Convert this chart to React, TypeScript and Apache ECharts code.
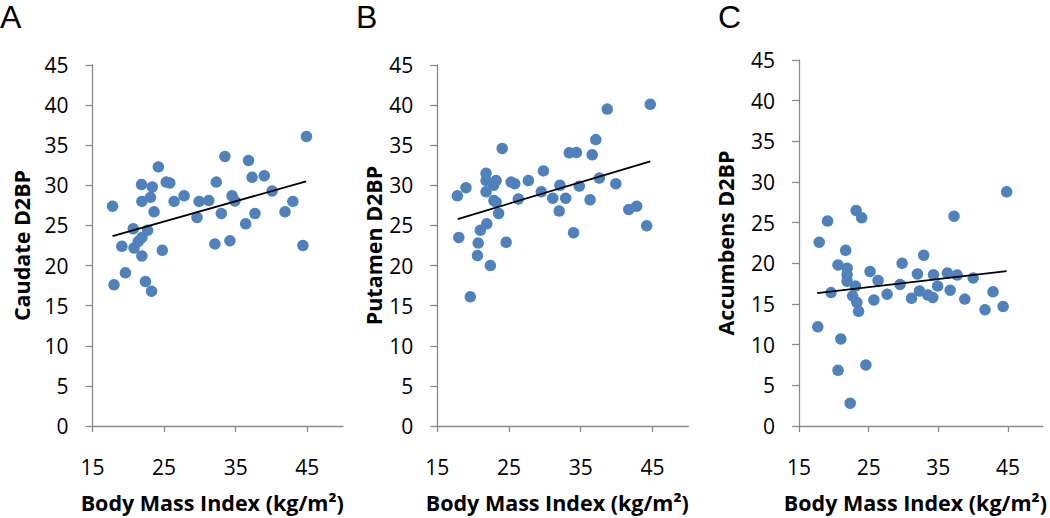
import React, { useEffect, useRef } from "react";
import * as echarts from "echarts";

const xTicks = [15, 25, 35, 45];
const panelLetters = ["A", "B", "C"];
const yTitles = ["Caudate D2BP", "Putamen D2BP", "Accumbens D2BP"];
const xTitle = "Body Mass Index (kg/m²)";

const caudate: [number, number][] = [
  [17.8, 27.4], [18.0, 17.6], [19.1, 22.4], [19.6, 19.1], [20.7, 24.6], [20.8, 22.2],
  [21.4, 23.0], [21.9, 23.5], [21.85, 30.1], [21.9, 28.0], [21.9, 21.2], [22.4, 18.0],
  [22.7, 24.4], [23.1, 28.5], [23.35, 29.8], [23.25, 16.8], [23.6, 26.7], [24.2, 32.3],
  [24.75, 21.9], [25.3, 30.4], [25.8, 30.3], [26.4, 28.0], [27.8, 28.7], [29.6, 26.0],
  [29.9, 28.0], [31.25, 28.1], [32.1, 22.7], [32.3, 30.4], [33.0, 26.5], [33.5, 33.6],
  [34.2, 23.1], [34.5, 28.7], [34.9, 28.05], [36.4, 25.2], [36.8, 33.1], [37.3, 31.0],
  [37.7, 26.5], [39.0, 31.2], [40.1, 29.3], [41.9, 26.7], [43.0, 28.0], [44.4, 22.5],
  [44.9, 36.1],
];
const putamen: [number, number][] = [
  [17.8, 28.7], [18.0, 23.5], [19.0, 29.7], [19.6, 16.1], [20.6, 21.25], [20.7, 22.8],
  [21.0, 24.4], [21.9, 25.2], [21.8, 31.5], [21.8, 30.6], [21.8, 29.2], [22.4, 20.0],
  [22.85, 30.0], [23.2, 30.6], [22.9, 28.1], [23.2, 27.9], [23.55, 26.5], [24.05, 34.6],
  [24.6, 22.9], [25.3, 30.4], [25.8, 30.2], [26.3, 28.3], [27.7, 30.6], [29.5, 29.2],
  [29.8, 31.8], [31.1, 28.4], [32.0, 26.8], [32.1, 30.0], [32.9, 28.4], [33.4, 34.05],
  [34.4, 34.1], [34.0, 24.1], [34.8, 29.9], [36.3, 28.2], [36.6, 33.8], [37.1, 35.7],
  [37.6, 30.9], [38.7, 39.5], [39.9, 30.2], [41.7, 27.0], [42.8, 27.4], [44.2, 24.95],
  [44.7, 40.1],
];
const accumbens: [number, number][] = [
  [17.7, 12.2], [17.9, 22.6], [19.1, 25.2], [19.6, 16.4], [20.6, 6.85], [20.6, 19.8],
  [21.0, 10.7], [21.7, 21.6], [21.9, 19.4], [21.9, 18.6], [21.9, 17.8], [22.35, 2.8],
  [22.7, 16.0], [23.1, 17.2], [23.2, 26.5], [23.3, 15.2], [23.55, 14.1], [24.0, 25.6],
  [24.6, 7.5], [25.2, 19.0], [25.75, 15.5], [26.35, 17.9], [27.65, 16.2], [29.5, 17.4],
  [29.8, 20.0], [31.15, 15.7], [32.0, 18.7], [32.3, 16.6], [32.9, 21.0], [33.5, 16.1],
  [34.2, 15.8], [34.3, 18.6], [34.9, 17.2], [36.3, 18.8], [36.7, 16.7], [37.25, 25.8],
  [37.7, 18.56], [38.8, 15.6], [40.0, 18.2], [41.7, 14.3], [42.85, 16.5], [44.3, 14.7],
  [44.8, 28.8],
];
const trendCaudate: [number, number][] = [[17.8, 23.67], [44.85, 30.5]];
const trendPutamen: [number, number][] = [[17.84, 25.8], [44.7, 33.0]];
const trendAccumbens: [number, number][] = [[17.6, 16.35], [44.8, 19.04]];

const FONT = "'Open Sans', 'Noto Sans', sans-serif";
const LETTER_FONT = "'Liberation Sans', Arial, sans-serif";
const AXIS_COLOR = "#8a8a8a";
const DOT = "#4f81bd";

export default function App() {
  const ref = useRef<HTMLDivElement>(null);
  useEffect(() => {
    document.body.style.margin = "0";
    const chart = echarts.init(ref.current!, null, { renderer: "svg" });
    const grids = [
      { left: 92.5, top: 65, width: 250.5, height: 372.7 },
      { left: 437.3, top: 65, width: 251, height: 372.7 },
      { left: 799, top: 60, width: 249.7, height: 372.7 },
    ];
    const yGaps = [60, 53, 63];
    const scatters = [caudate, putamen, accumbens];
    const trends = [trendCaudate, trendPutamen, trendAccumbens];
    const letterX = [0, 356, 718];
    chart.setOption({
      animation: false,
      grid: grids,
      xAxis: grids.map((_, i) => ({
        type: "value",
        gridIndex: i,
        min: 15,
        max: 50,
        name: xTitle,
        nameLocation: "middle",
        nameGap: 65,
        nameTextStyle: {
          fontFamily: FONT,
          fontSize: 21.5,
          fontWeight: "bold",
          color: "#000",
          padding: [0, 11, 0, 0],
        },
        splitLine: { show: false },
        axisLine: { show: true, onZero: false, lineStyle: { color: AXIS_COLOR, width: 1.3 } },
        axisTick: { show: true, length: 6, customValues: xTicks, lineStyle: { color: AXIS_COLOR, width: 1.3 } },
        axisLabel: { customValues: xTicks, margin: 30, fontFamily: FONT, fontSize: 21, color: "#000" },
      })),
      yAxis: grids.map((_, i) => ({
        type: "value",
        gridIndex: i,
        min: 0,
        max: 45,
        interval: 5,
        name: yTitles[i],
        nameLocation: "middle",
        nameGap: yGaps[i],
        nameTextStyle: { fontFamily: FONT, fontSize: 21.5, fontWeight: "bold", color: "#000" },
        splitLine: { show: false },
        axisLine: { show: true, lineStyle: { color: AXIS_COLOR, width: 1.3 } },
        axisTick: { show: true, length: 7, lineStyle: { color: AXIS_COLOR, width: 1.3 } },
        axisLabel: { margin: 24, fontFamily: FONT, fontSize: 21, color: "#000" },
      })),
      series: [
        ...scatters.map((d, i) => ({
          type: "scatter",
          xAxisIndex: i,
          yAxisIndex: i,
          data: d,
          symbolSize: 11.5,
          itemStyle: { color: DOT, opacity: 1 },
          z: 2,
        })),
        ...trends.map((d, i) => ({
          type: "line",
          xAxisIndex: i,
          yAxisIndex: i,
          data: d,
          showSymbol: false,
          symbol: "none",
          lineStyle: { color: "#000", width: 1.8 },
          z: 3,
        })),
      ],
      graphic: panelLetters.map((t, i) => ({
        type: "text",
        x: letterX[i],
        y: 1,
        style: {
          text: t,
          fontFamily: LETTER_FONT,
          fontSize: 32,
          fill: "#000",
          verticalAlign: "top",
        },
      })),
    });
    return () => chart.dispose();
  }, []);
  return <div ref={ref} style={{ width: 1050, height: 518 }} />;
}
